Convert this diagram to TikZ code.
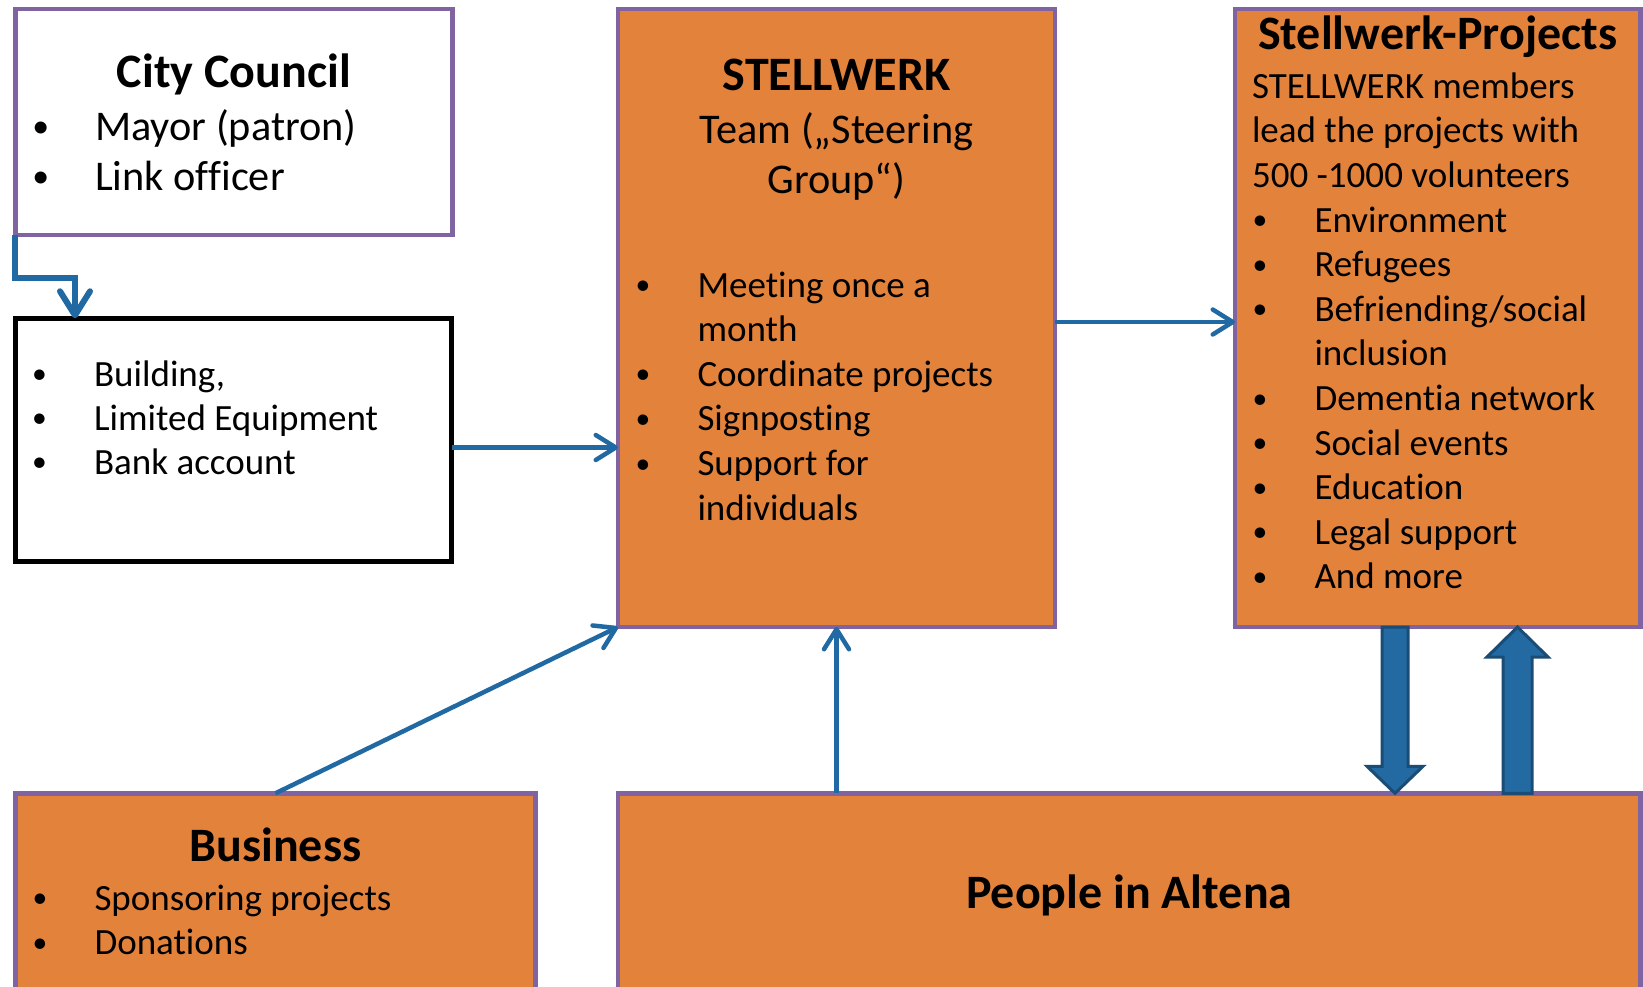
\documentclass[tikz,border=0pt]{standalone}
\usepackage{fontspec}
\setmainfont{Carlito}[Ligatures=NoCommon]
\usetikzlibrary{arrows.meta,calc}

\definecolor{boxorange}{HTML}{E3823B}
\definecolor{boxpurple}{HTML}{8064A2}
\definecolor{linkblue}{HTML}{2169A3}
\definecolor{blockblue}{HTML}{236AA2}
\definecolor{blockedge}{HTML}{1A4C76}

% bullet item and continuation line, text indented from the bullet centre
\newcommand\itm[1]{\makebox[0pt]{\raisebox{0.06em}{\scalebox{0.8}{\textbullet}}}\hspace{54.5pt}#1}
\newcommand\cont[1]{\hspace*{54.5pt}#1}
\newcommand\bodyfont{\fontsize{37}{44.6}\selectfont}
\newcommand\largebody{\fontsize{42.3}{50}\selectfont}
\newcommand\titlefont{\fontsize{48}{56}\selectfont\bfseries}

\tikzset{
  panel/.style={draw=boxpurple, line width=4.5pt, inner sep=0pt, outer sep=0pt, anchor=north west},
  orangepanel/.style={panel, fill=boxorange},
  whitepanel/.style={panel, fill=white},
  blackpanel/.style={panel, draw=black, line width=5pt, fill=white},
  txt/.style={inner sep=0pt, outer sep=0pt, anchor=base west},
  ctxt/.style={txt, anchor=base},
  link/.style={draw=linkblue, line width=4.5pt, -{Straight Barb[length=20pt, width=25pt, round]}},
  elbowlink/.style={draw=linkblue, line width=6pt, line join=miter, -{Straight Barb[length=24pt, width=30pt, round]}},
  blockarrow/.style={fill=blockblue, draw=blockedge, line width=3pt, line join=miter},
}

\begin{document}
\begin{tikzpicture}[x=1pt, y=-1pt]
\useasboundingbox (0,0) rectangle (1643,986);
\clip (0,0) rectangle (1643,986);

% boxes
\node[whitepanel, minimum width=437pt, minimum height=225.6pt] (cc) at (15.4,9.2) {};
\node[blackpanel, minimum width=436.5pt, minimum height=243.4pt] (res) at (15,318.3) {};
\node[orangepanel, minimum width=437pt, minimum height=617.8pt] (stell) at (618,9.2) {};
\node[orangepanel, minimum width=405.5pt, minimum height=617.8pt] (proj) at (1235,9.2) {};
\node[orangepanel, minimum width=519.8pt, minimum height=260pt] (bus) at (15.5,793.3) {};
\node[orangepanel, minimum width=1022.5pt, minimum height=260pt] (people) at (618,793.3) {};

% City Council
\node[ctxt] (cctitle) at (233.9,87.3) {\titlefont City Council};
\node[txt] (cclist) at (40.7,140) {\largebody\begin{tabular}[t]{@{}l@{}}
  \itm{Mayor (patron)}\\ \itm{Link officer}\end{tabular}};

% resources
\node[txt] (reslist) at (39.6,386) {\fontsize{37}{44}\selectfont\begin{tabular}[t]{@{}l@{}}
  \itm{Building,}\\ \itm{Limited Equipment}\\ \itm{Bank account}\end{tabular}};

% STELLWERK
\node[ctxt] (stelltitle) at (836.5,90.7) {\titlefont STELLWERK};
\node[ctxt] (team) at (836.5,143.3) {\largebody\begin{tabular}[t]{@{}c@{}}
  Team („Steering\\ Group“)\end{tabular}};
\node[txt] (stelllist) at (643,297) {\bodyfont\begin{tabular}[t]{@{}l@{}}
  \itm{Meeting once a}\\ \cont{month}\\ \itm{Coordinate projects}\\
  \itm{Signposting}\\ \itm{Support for}\\ \cont{individuals}\end{tabular}};

% Stellwerk-Projects
\node[ctxt] (projtitle) at (1437.75,49.3) {\titlefont Stellwerk-Projects};
\node[txt] (projhead) at (1252,98.3) {\bodyfont\begin{tabular}[t]{@{}l@{}}
  STELLWERK members\\ lead the projects with\\ 500 -1000 volunteers\end{tabular}};
\node[txt] (projlist) at (1260,232) {\bodyfont\begin{tabular}[t]{@{}l@{}}
  \itm{Environment}\\ \itm{Refugees}\\ \itm{Befriending/social}\\ \cont{inclusion}\\
  \itm{Dementia network}\\ \itm{Social events}\\ \itm{Education}\\
  \itm{Legal support}\\ \itm{And more}\end{tabular}};

% Business
\node[ctxt] (bustitle) at (275.4,861.7) {\titlefont Business};
\node[txt] (buslist) at (40,910) {\bodyfont\begin{tabular}[t]{@{}l@{}}
  \itm{Sponsoring projects}\\ \itm{Donations}\end{tabular}};

% People in Altena
\node[ctxt] (peopletitle) at (1129.25,908) {\titlefont People in Altena};

% connectors
\draw[elbowlink] (cc.south west) |- (75,277.5) -- (res.north -| 75,0);
\draw[link] (res.east |- 0,447.5) -- (stell.west |- 0,447.5);
\draw[link] (stell.east |- 0,322) -- (proj.west |- 0,322);
\draw[link] (bus.north) -- (stell.south west);
\draw[link] (people.north -| stell.south) -- (stell.south);

% block arrows between projects and people
\coordinate (dtop) at (proj.south -| 1395,0);
\coordinate (dbot) at (people.north -| 1395,0);
\draw[blockarrow] ($(dtop)+(-13,0)$) -- ($(dbot)+(-13,-27)$) -- ($(dbot)+(-28,-27)$)
  -- (dbot) -- ($(dbot)+(28,-27)$) -- ($(dbot)+(13,-27)$) -- ($(dtop)+(13,0)$) -- cycle;
\coordinate (utop) at (proj.south -| 1517.5,0);
\coordinate (ubot) at (people.north -| 1517.5,0);
\draw[blockarrow] ($(ubot)+(-14.5,0)$) -- ($(utop)+(-14.5,30)$) -- ($(utop)+(-30.5,30)$)
  -- (utop) -- ($(utop)+(30.5,30)$) -- ($(utop)+(14.5,30)$) -- ($(ubot)+(14.5,0)$) -- cycle;
\end{tikzpicture}
\end{document}
